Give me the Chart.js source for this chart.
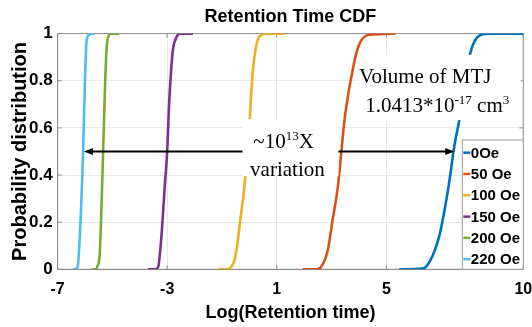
<!DOCTYPE html>
<html>
<head>
<meta charset="utf-8">
<script src="https://cdn.jsdelivr.net/npm/chart.js@4.4.0/dist/chart.umd.min.js"></script>
<style>
  html, body { margin: 0; padding: 0; background: #fff; }
  #wrap { width: 532px; height: 327px; }
</style>
</head>
<body>
<div id="wrap"><canvas id="myCanvasCdf"></canvas></div>
<script>
/*
*Series names and colours (matlab default order)
*/
const seriesLabels = ['0Oe', '50 Oe', '100 Oe', '150 Oe', '200 Oe', '220 Oe'];
const seriesColors = ['#0072BD', '#D95319', '#EDB120', '#7E2F8E', '#77AC30', '#4DBEEE'];

/*
*Log(retention time) / CDF points
*/
const x0Oe = [5.47, 6.32, 6.57, 6.93, 7.17, 7.36, 7.45, 7.54, 7.66, 8.06, 8.21, 8.45, 8.75, 10.0];
const y0Oe = [0, 0.003, 0.03, 0.14, 0.28, 0.42, 0.50, 0.56, 0.63, 0.915, 0.965, 0.995, 1, 1];
const x50Oe = [1.95, 2.45, 2.62, 2.86, 3.04, 3.23, 3.35, 3.47, 3.65, 3.77, 3.90, 4.08, 4.38, 5.33];
const y50Oe = [0, 0, 0.01, 0.08, 0.21, 0.35, 0.49, 0.63, 0.77, 0.845, 0.915, 0.97, 0.995, 1];
const x100Oe = [-1.15, -0.85, -0.66, -0.54, -0.45, -0.33, -0.21, -0.14, 0.01, 0.07, 0.13, 0.23, 0.35, 0.56, 1.28];
const y100Oe = [0, 0, 0.01, 0.04, 0.096, 0.21, 0.32, 0.40, 0.63, 0.75, 0.845, 0.935, 0.985, 1, 1];
const x150Oe = [-3.70, -3.45, -3.33, -3.21, -3.09, -3.00, -2.93, -2.84, -2.78, -2.66, -2.54, -2.06];
const y150Oe = [0, 0, 0.01, 0.14, 0.35, 0.50, 0.70, 0.87, 0.94, 0.985, 1, 1];
const x200Oe = [-5.76, -5.60, -5.54, -5.46, -5.34, -5.27, -5.21, -5.14, -5.09, -4.75];
const y200Oe = [0, 0, 0.015, 0.07, 0.49, 0.77, 0.94, 0.99, 1, 1];
const x220Oe = [-6.43, -6.30, -6.25, -6.16, -6.09, -6.04, -5.99, -5.94, -5.85, -5.66];
const y220Oe = [0, 0.005, 0.025, 0.21, 0.42, 0.63, 0.845, 0.97, 0.995, 1];

/*
*Tick labels
*/
const xTickValues = [-7, -3, 1, 5, 10];
const yTickValues = [0, 0.2, 0.4, 0.6, 0.8, 1];
const yTickLabels = ['0', '0.2', '0.4', '0.6', '0.8', '1'];

/*
*Annotations, placed in data coordinates
*/
const arrowY = 0.5;
const arrowFrom = -6.04;
const arrowTo = 7.48;
const variationBox = {x0: -0.25, x1: 3.25, y0: 0.395, y1: 0.637};
const variationLines = [
    {x: 1.25, y: 0.514, parts: [['~10', false], ['13', true], ['X', false]]},
    {x: 1.39, y: 0.395, parts: [['variation', false]]}
];
const volumeBox = {x0: 3.95, x1: 9.9, y0: 0.633, y1: 0.91};
const volumeLines = [
    {x: 6.42, y: 0.79, parts: [['Volume of MTJ', false]]},
    {x: 6.86, y: 0.667, parts: [['1.0413*10', false], ['-17', true], [' cm', false], ['3', true]]}
];

const SANS = '"Liberation Sans", Arial, sans-serif';
const SERIF = '"Liberation Serif", "Times New Roman", serif';

function toPoints(xs, ys){
    return xs.map((x, i) => ({x: x, y: ys[i]}));
}

const seriesPoints = [
    toPoints(x0Oe, y0Oe), toPoints(x50Oe, y50Oe), toPoints(x100Oe, y100Oe),
    toPoints(x150Oe, y150Oe), toPoints(x200Oe, y200Oe), toPoints(x220Oe, y220Oe)
];

/*
*Text with superscripts, centred on cx
*/
function drawRich(ctx, parts, cx, baseline, size){
    const supSize = Math.round(size * 0.62);
    let width = 0;
    parts.forEach(p => {
        ctx.font = (p[1] ? supSize : size) + 'px ' + SERIF;
        width += ctx.measureText(p[0]).width;
    });
    let x = cx - width / 2;
    ctx.textAlign = 'left';
    ctx.textBaseline = 'alphabetic';
    ctx.fillStyle = '#000';
    parts.forEach(p => {
        ctx.font = (p[1] ? supSize : size) + 'px ' + SERIF;
        ctx.fillText(p[0], x, p[1] ? baseline - size * 0.4 : baseline);
        x += ctx.measureText(p[0]).width;
    });
}

function arrowHead(ctx, tipX, y, dir){
    ctx.beginPath();
    ctx.moveTo(tipX, y);
    ctx.lineTo(tipX - dir * 9, y - 3.5);
    ctx.lineTo(tipX - dir * 9, y + 3.5);
    ctx.closePath();
    ctx.fill();
}

/*
*Box round the axes with small inner ticks
*/
const framePlugin = {
    id: 'frame',
    beforeDatasetsDraw(chart){
        const {ctx, chartArea: a, scales} = chart;
        ctx.save();
        ctx.strokeStyle = '#8c8c8c';
        ctx.lineWidth = 1;
        ctx.strokeRect(a.left, a.top, a.right - a.left, a.bottom - a.top);
        ctx.beginPath();
        xTickValues.forEach(v => {
            const px = scales.x.getPixelForValue(v);
            ctx.moveTo(px, a.bottom); ctx.lineTo(px, a.bottom - 4);
            ctx.moveTo(px, a.top); ctx.lineTo(px, a.top + 4);
        });
        yTickValues.forEach(v => {
            const py = scales.y.getPixelForValue(v);
            ctx.moveTo(a.left, py); ctx.lineTo(a.left + 4, py);
            ctx.moveTo(a.right, py); ctx.lineTo(a.right - 4, py);
        });
        ctx.stroke();
        ctx.restore();
    }
};

/*
*Arrow, text boxes and the legend box drawn over the curves
*/
const notesPlugin = {
    id: 'notes',
    afterDatasetsDraw(chart){
        const {ctx, chartArea: a, scales} = chart;
        const sx = scales.x, sy = scales.y;
        ctx.save();
        // arrow
        const ay = sy.getPixelForValue(arrowY);
        const ax0 = sx.getPixelForValue(arrowFrom);
        const ax1 = sx.getPixelForValue(arrowTo);
        ctx.strokeStyle = '#000';
        ctx.fillStyle = '#000';
        ctx.lineWidth = 2;
        ctx.beginPath();
        ctx.moveTo(ax0 + 6, ay);
        ctx.lineTo(ax1 - 6, ay);
        ctx.stroke();
        arrowHead(ctx, ax0, ay, -1);
        arrowHead(ctx, ax1, ay, 1);
        // text boxes
        [[variationBox, variationLines], [volumeBox, volumeLines]].forEach(([b, lines]) => {
            const l = sx.getPixelForValue(b.x0), r = sx.getPixelForValue(b.x1);
            const t = sy.getPixelForValue(b.y1), bt = sy.getPixelForValue(b.y0);
            ctx.fillStyle = '#fff';
            ctx.fillRect(l, t, r - l, bt - t);
            lines.forEach(line => {
                drawRich(ctx, line.parts, sx.getPixelForValue(line.x), sy.getPixelForValue(line.y), 21);
            });
        });
        // legend
        const lw = 61, lh = 129.3;
        const lx = a.right - lw, ly = a.bottom - lh;
        ctx.fillStyle = '#fff';
        ctx.fillRect(lx, ly, lw, lh);
        ctx.strokeStyle = '#999';
        ctx.lineWidth = 1;
        ctx.strokeRect(lx, ly, lw, lh);
        ctx.font = 'bold 15px ' + SANS;
        ctx.textAlign = 'left';
        ctx.textBaseline = 'middle';
        chart.data.datasets.forEach((ds, i) => {
            const y = ly + 12.7 + i * 21.3;
            ctx.strokeStyle = ds.borderColor;
            ctx.lineWidth = 2.5;
            ctx.beginPath();
            ctx.moveTo(lx + 1, y);
            ctx.lineTo(lx + 8, y);
            ctx.stroke();
            ctx.fillStyle = '#000';
            ctx.fillText(ds.label, lx + 8.5, y + 1);
        });
        ctx.restore();
    }
};

function drawCdf(id){
    const ctx = document.getElementById(id).getContext('2d');
    return new Chart(ctx, {
        type: 'line',
        data: {
            datasets: seriesLabels.map((name, i) => ({
                label: name,
                data: seriesPoints[i],
                borderColor: seriesColors[i],
                backgroundColor: seriesColors[i],
                borderWidth: 2.6,
                pointRadius: 0,
                fill: false,
                cubicInterpolationMode: 'monotone'
            }))
        },
        options: {
            responsive: true,
            maintainAspectRatio: false,
            animation: false,
            layout: {padding: {left: 0, right: 0, top: 0, bottom: 0}},
            plugins: {
                legend: {display: false},
                tooltip: {enabled: false},
                title: {
                    display: true,
                    text: 'Retention Time CDF',
                    fullSize: false,
                    color: '#000',
                    font: {family: SANS, size: 18, weight: 'bold'},
                    padding: {top: 6, bottom: 6}
                }
            },
            scales: {
                x: {
                    type: 'linear',
                    min: -7,
                    max: 10,
                    afterBuildTicks: s => { s.ticks = xTickValues.map(v => ({value: v})); },
                    afterFit: s => { s.height = 57.7; s.paddingRight = 8.7; s.paddingLeft = 8; },
                    ticks: {color: '#000', font: {family: SANS, size: 16, weight: 'bold'}, padding: 11, maxRotation: 0, autoSkip: false},
                    grid: {color: '#e4e9eb', drawTicks: false},
                    border: {display: true, color: '#8c8c8c'},
                    title: {display: true, text: 'Log(Retention time)', color: '#000',
                        font: {family: SANS, size: 18, weight: 'bold'}, padding: {top: 0, bottom: 3}}
                },
                y: {
                    type: 'linear',
                    min: 0,
                    max: 1,
                    afterBuildTicks: s => { s.ticks = yTickValues.map(v => ({value: v})); },
                    afterFit: s => { s.width = 57.6; },
                    ticks: {
                        color: '#000', font: {family: SANS, size: 17, weight: 'bold'}, padding: 5,
                        callback: v => yTickLabels[yTickValues.indexOf(v)]
                    },
                    grid: {color: '#e4e9eb', drawTicks: false},
                    border: {display: true, color: '#8c8c8c'},
                    title: {display: true, text: 'Probability distribution', color: '#000',
                        font: {family: SANS, size: 20, weight: 'bold'}, padding: {top: 8, bottom: 0}}
                }
            }
        },
        plugins: [framePlugin, notesPlugin]
    });
}

drawCdf('myCanvasCdf');
</script>
</body>
</html>
